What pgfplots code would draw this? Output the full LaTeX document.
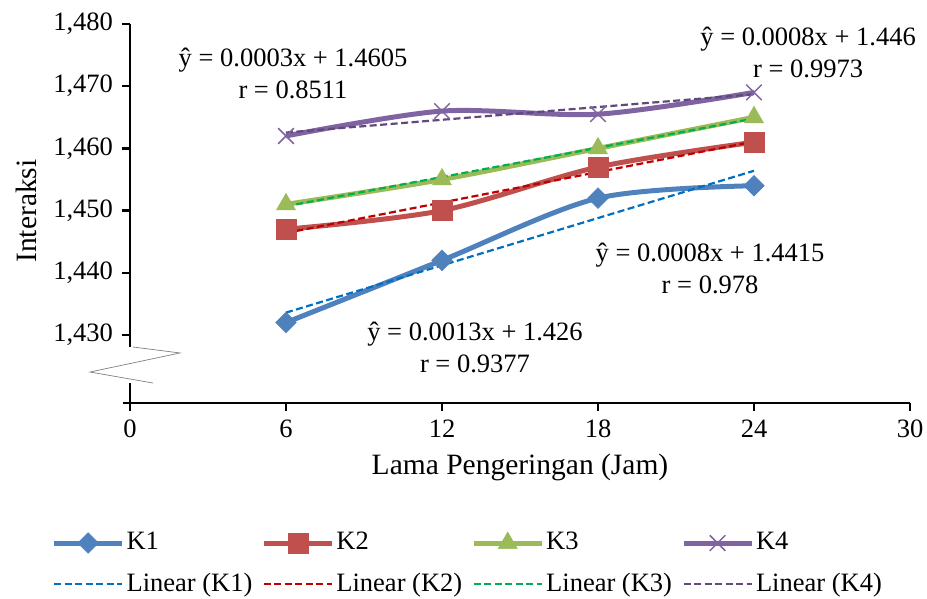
\documentclass[border=0pt]{standalone}
\usepackage{fontspec}
\setmainfont{Liberation Serif}
\usepackage{pgfplots}
\pgfplotsset{compat=1.18}
\definecolor{cA}{HTML}{4F81BD}
\definecolor{cB}{HTML}{C0504D}
\definecolor{cC}{HTML}{9BBB59}
\definecolor{cD}{HTML}{8064A2}
\definecolor{tA}{HTML}{0070C0}
\definecolor{tB}{HTML}{C00000}
\definecolor{tC}{HTML}{00B050}
\definecolor{tD}{HTML}{604A7B}
\pgfplotsset{
  trend legend/.style={legend image code/.code={\draw[##1] (0pt,0pt) -- (68pt,0pt);}},
  trend/.style={color=#1, line width=2.2pt, dash pattern=on 7pt off 3.5pt, trend legend},
}
\begin{document}
\fontsize{26.5}{32}\selectfont
\begin{tikzpicture}
\path[use as bounding box] (-130pt,-196pt) rectangle (797pt,403pt);
\begin{axis}[
  at={(0pt,0pt)}, anchor=south west,
  scale only axis, width=780pt, height=379pt,
  xmin=0, xmax=30, ymin=1.419068, ymax=1.48,
  axis x line=bottom, axis y line=left,
  x axis line style={-, line width=2.5pt, black},
  y axis line style={draw=none},
  tick align=outside, major tick length=8pt,
  tick style={black, line width=2.5pt},
  xtick={0,6,12,18,24,30},
  xticklabels={0,6,12,18,24,30},
  ytick={1.43,1.44,1.45,1.46,1.47,1.48},
  yticklabels={{1,430},{1,440},{1,450},{1,460},{1,470},{1,480}},
  xlabel={Lama Pengeringan (Jam)},
  ylabel={Interaksi},
  label style={font=\fontsize{29.5}{35}\selectfont},
  xlabel style={at={(axis description cs:0.5,-0.169)}, anchor=center},
  ylabel style={at={(axis description cs:-0.1333,0.5066)}, anchor=center},
  clip=false,
  legend columns=4,
  legend cell align=left,
  legend style={draw=none, fill=none, at={(0.433,-0.33)}, anchor=north,
    row sep=15pt,
    /tikz/every even column/.append style={column sep=7pt}},
  legend image code/.code={\draw[#1, mark repeat=2, mark phase=2] plot coordinates {(0pt,0pt) (34pt,0pt) (68pt,0pt)};},
]
\addplot[smooth, color=cA, line width=5pt, mark=square*, mark size=7.3pt, mark options={rotate=45, fill=cA, draw=cA, line width=0.5pt}]
  coordinates {(6,1.432) (12,1.442) (18,1.452) (24,1.454)};
\addlegendentry{K1}
\addplot[smooth, color=cB, line width=5pt, mark=square*, mark size=10pt, mark options={fill=cB, draw=cB, line width=0.5pt}]
  coordinates {(6,1.447) (12,1.450) (18,1.457) (24,1.461)};
\addlegendentry{K2}
\addplot[smooth, color=cC, line width=5pt, mark=triangle*, mark size=11pt, mark options={fill=cC, draw=cC, line width=0.5pt}]
  coordinates {(6,1.451) (12,1.455) (18,1.460) (24,1.465)};
\addlegendentry{K3}
\addplot[smooth, color=cD, line width=5pt, mark=x, mark size=11pt, mark options={draw=cD, line width=1.5pt}]
  coordinates {(6,1.462) (12,1.466) (18,1.4655) (24,1.469)};
\addlegendentry{K4}
\addplot[trend=tA] coordinates {(6,1.4336) (24,1.4564)};
\addlegendentry{Linear (K1)}
\addplot[trend=tB] coordinates {(6,1.4464) (24,1.4611)};
\addlegendentry{Linear (K2)}
\addplot[trend=tC] coordinates {(6,1.4507) (24,1.4648)};
\addlegendentry{Linear (K3)}
\addplot[trend=tD] coordinates {(6,1.46255) (24,1.4687)};
\addlegendentry{Linear (K4)}
% y axis with break
\draw[line width=2.5pt, black] (axis cs:0,1.48) -- (axis cs:0,1.42807);
\draw[line width=2.5pt, black] (axis cs:0,1.42228) -- (axis cs:0,1.419068);
\draw[line width=2.5pt, black] (axis cs:-0.27,1.419068) -- (axis cs:0,1.419068);
\draw[gray, line width=0.7pt] (axis cs:0.115,1.42807) -- (axis cs:1.923,1.42711) -- (axis cs:-1.538,1.42405) -- (axis cs:0.885,1.42228);
% equations
\node[align=center] at (axis cs:6.27,1.47212) {ŷ = 0.0003x + 1.4605\\r = 0.8511};
\node[align=center] at (axis cs:26.08,1.47542) {ŷ = 0.0008x + 1.446\\r = 0.9973};
\node[align=center] at (axis cs:22.31,1.44077) {ŷ = 0.0008x + 1.4415\\r = 0.978};
\node[align=center] at (axis cs:13.27,1.42799) {ŷ = 0.0013x + 1.426\\r = 0.9377};
\end{axis}
\end{tikzpicture}
\end{document}
